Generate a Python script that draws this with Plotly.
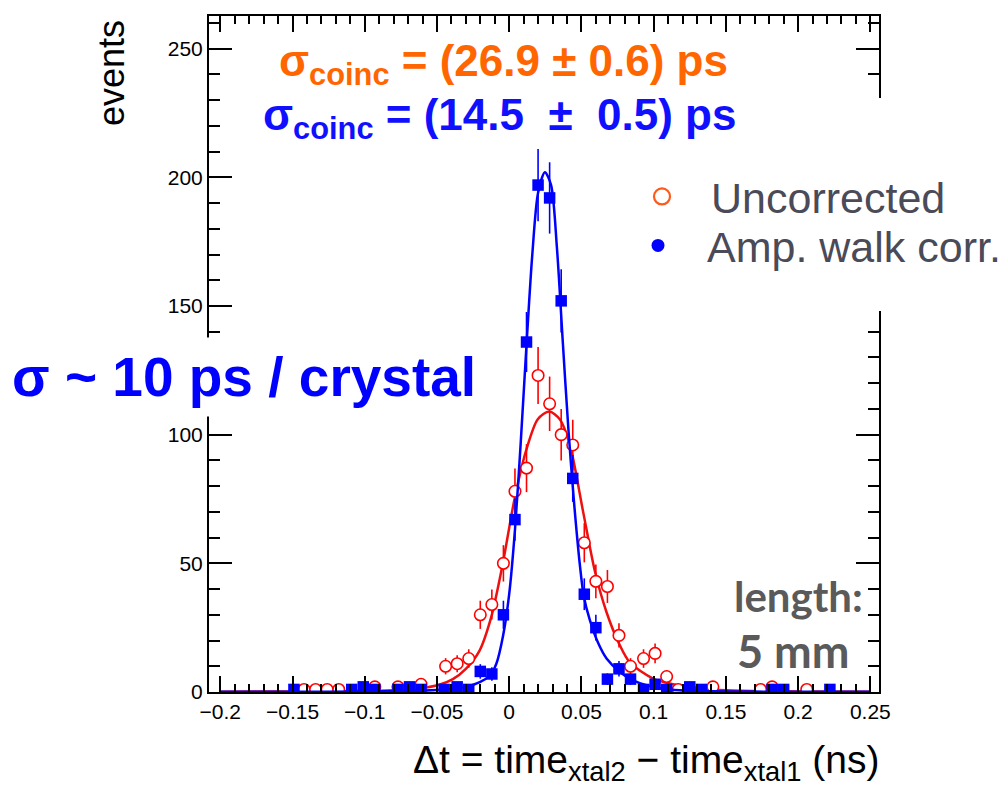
import numpy as np
import plotly.graph_objects as go

# ---------------- data ----------------
uncorr_x = [-0.142, -0.134, -0.126, -0.118, -0.093, -0.077, -0.069, -0.061, -0.044, -0.036,
            -0.028, -0.020, -0.012, -0.004, 0.004, 0.012, 0.020, 0.028, 0.036, 0.044,
            0.052, 0.060, 0.068, 0.076, 0.084, 0.093, 0.101, 0.109, 0.117, 0.125,
            0.141, 0.174, 0.182, 0.206]
uncorr_y = [1, 1, 1, 1, 2, 2, 1, 3, 10, 11,
            13, 30, 34, 50, 78, 87, 123, 112, 100, 96,
            58, 43, 41, 22, 10, 13, 15, 6, 1, 1,
            2, 1, 2, 1]

corr_x = [-0.149, -0.109, -0.101, -0.093, -0.077, -0.069, -0.061, -0.045, -0.036, -0.028,
          -0.020, -0.012, -0.004, 0.004, 0.012, 0.020, 0.028, 0.036, 0.044, 0.052,
          0.060, 0.068, 0.076, 0.084, 0.093, 0.101, 0.109, 0.125, 0.133, 0.182,
          0.190, 0.222]
corr_y = [1, 1, 2, 1, 1, 2, 1, 1, 2, 1,
          8, 7, 30, 67, 136, 197, 192, 152, 83, 38,
          25, 5, 9, 5, 1, 3, 1, 2, 1, 1,
          1, 1]

fit_uncorr_x = [-0.2, -0.15, -0.1, -0.08, -0.07, -0.06, -0.048, -0.039, -0.030, -0.0206,
                -0.0125, -0.0044, 0.0037, 0.0118, 0.0198, 0.0277, 0.035, 0.042, 0.0512, 0.0593,
                0.0674, 0.0759, 0.0835, 0.0996, 0.1134, 0.13, 0.15, 0.2, 0.25]
fit_uncorr_y = [0.1, 0.2, 0.4, 0.7, 1.0, 1.5, 2.9, 5, 9, 16,
                29, 50, 75, 94, 106, 109, 106, 96, 70, 47,
                31, 19, 11.5, 5.2, 3, 1.5, 0.7, 0.2, 0.1]

fit_corr_x = [-0.2, -0.15, -0.1, -0.07, -0.05, -0.04, -0.03, -0.02, -0.0133, -0.0089,
              -0.0042, 0.0, 0.004, 0.008, 0.012, 0.016, 0.020, 0.0247, 0.029, 0.033,
              0.037, 0.041, 0.045, 0.049, 0.0517, 0.0558, 0.0616, 0.0674, 0.0766, 0.0858,
              0.095, 0.1065, 0.118, 0.14, 0.17, 0.2, 0.25]
fit_corr_y = [0.05, 0.1, 0.2, 0.4, 0.8, 1.2, 2.0, 3.9, 6.5, 11,
              22, 38, 63, 97, 135, 170, 194, 202, 197, 173,
              137, 102, 73, 49, 37, 28, 19, 13, 7.8, 4.5,
              2.6, 1.3, 0.7, 0.3, 0.15, 0.1, 0.05]

x_tick_vals = [-0.2, -0.15, -0.1, -0.05, 0, 0.05, 0.1, 0.15, 0.2, 0.25]
x_tick_text = ["\u22120.2", "\u22120.15", "\u22120.1", "\u22120.05", "0", "0.05", "0.1", "0.15", "0.2", "0.25"]
y_tick_vals = [0, 50, 100, 150, 200, 250]
y_tick_text = ["0", "50", "100", "150", "200", "250"]
legend_labels = ["Uncorrected", "Amp. walk corr."]

# ---------------- styling ----------------
RED = "#ff0000"
BLUE = "#0000ff"
ORANGE = "#ff6600"
W, H = 1005, 786
L, R, T, B = 209, 879, 16, 692


def px_x(px):
    return (px - L) / (R - L)


def px_y(py):
    return (B - py) / (B - T)


fig = go.Figure()

fig.add_trace(go.Scatter(x=fit_uncorr_x, y=fit_uncorr_y, mode="lines",
                         line=dict(color="#ee1010", width=2.5, shape="spline", smoothing=0.8),
                         showlegend=False, hoverinfo="skip"))
fig.add_trace(go.Scatter(x=uncorr_x, y=uncorr_y, mode="markers",
                         marker=dict(symbol="circle", size=11.5, color="white",
                                     line=dict(color=RED, width=1.6)),
                         error_y=dict(type="data", array=np.sqrt(uncorr_y), color=RED,
                                      thickness=1.6, width=0),
                         showlegend=False))
fig.add_trace(go.Scatter(x=fit_corr_x, y=fit_corr_y, mode="lines",
                         line=dict(color=BLUE, width=2.5, shape="spline", smoothing=0.8),
                         showlegend=False, hoverinfo="skip"))
fig.add_trace(go.Scatter(x=corr_x, y=corr_y, mode="markers",
                         marker=dict(symbol="square", size=11.5, color=BLUE),
                         error_y=dict(type="data", array=np.sqrt(corr_y), color=BLUE,
                                      thickness=1.6, width=0),
                         showlegend=False))

# legend entries (each in its own legend box so they can be placed like the reference)
fig.add_trace(go.Scatter(x=[None], y=[None], mode="markers", name=legend_labels[0],
                         legend="legend",
                         marker=dict(symbol="circle-open", size=17, color="#ff5a1a",
                                     line=dict(width=2.2))))
fig.add_trace(go.Scatter(x=[None], y=[None], mode="markers", name=legend_labels[1],
                         legend="legend2",
                         marker=dict(symbol="circle", size=13, color=BLUE)))

axis_common = dict(showline=True, linecolor="black", linewidth=2, mirror="allticks",
                   ticks="inside", tickcolor="black", tickwidth=1.5, showgrid=False,
                   zeroline=False, tickfont=dict(family="Liberation Sans", size=21, color="black"))

fig.update_xaxes(range=[-0.2078, 0.256], tickmode="array", tickvals=x_tick_vals,
                 ticktext=x_tick_text, ticklen=16,
                 minor=dict(ticks="inside", ticklen=8, tickmode="linear", tick0=0, dtick=0.01,
                            tickcolor="black", tickwidth=1.5, showgrid=False),
                 **axis_common)
fig.update_yaxes(range=[0, 262.7], tickmode="array", tickvals=y_tick_vals,
                 ticktext=y_tick_text, ticklen=23,
                 minor=dict(ticks="inside", ticklen=11, tickmode="linear", tick0=0, dtick=10,
                            tickcolor="black", tickwidth=1.5, showgrid=False),
                 **axis_common)

annotations = [
    dict(text="<b>\u03c3<sub>coinc</sub> = (26.9 \u00b1 0.6) ps</b>", x=px_x(277), y=px_y(64),
         xanchor="left", yanchor="middle", font=dict(family="Liberation Sans", size=44, color=ORANGE)),
    dict(text="<b>\u03c3<sub>coinc</sub> = (14.5 \u00a0\u00b1\u00a0 0.5) ps</b>", x=px_x(261), y=px_y(118),
         xanchor="left", yanchor="middle", font=dict(family="Liberation Sans", size=44, color="#1010ff")),
    dict(text="<b>\u03c3 ~ 10 ps / crystal</b>", x=px_x(3), y=px_y(377), xanchor="left",
         yanchor="middle", bgcolor="white", borderpad=8,
         font=dict(family="Liberation Sans", size=55, color=BLUE)),
    dict(text="<b>length:</b>", x=px_x(798), y=px_y(596), xanchor="center", yanchor="middle",
         font=dict(family="Lato", size=42, color="#5a5a5a")),
    dict(text="<b>5\u00a0mm</b>", x=px_x(793), y=px_y(651), xanchor="center", yanchor="middle",
         font=dict(family="Lato", size=45, color="#5a5a5a")),
    dict(text="\u0394t = time<sub>xtal2</sub> \u2212 time<sub>xtal1</sub> (ns)", x=px_x(881), y=px_y(762),
         xanchor="right", yanchor="middle", font=dict(family="Liberation Sans", size=39, color="black")),
    dict(text="events", x=px_x(111), y=px_y(18), xanchor="center", yanchor="top", textangle=-90,
         font=dict(family="Liberation Sans", size=36, color="black")),
]
for a in annotations:
    a.update(xref="paper", yref="paper", showarrow=False)

legend_font = dict(family="Liberation Sans", size=43, color="#4a4a58")
fig.update_layout(
    width=W, height=H,
    margin=dict(l=L, r=W - R, t=T, b=H - B, autoexpand=False),
    paper_bgcolor="white", plot_bgcolor="white",
    annotations=annotations,
    shapes=[dict(type="rect", xref="paper", yref="paper", x0=px_x(625), x1=px_x(1010),
                 y0=px_y(311), y1=px_y(98), fillcolor="white", line=dict(width=0),
                 layer="above")],
    legend=dict(x=px_x(613), y=px_y(162), xanchor="left", yanchor="top",
                bgcolor="rgba(0,0,0,0)", itemwidth=88, font=legend_font),
    legend2=dict(x=px_x(609), y=px_y(211), xanchor="left", yanchor="top",
                 bgcolor="rgba(0,0,0,0)", itemwidth=88, font=legend_font),
)

fig.write_html("out.html", config={"displayModeBar": False},
               post_script="document.body.style.margin='0';")
